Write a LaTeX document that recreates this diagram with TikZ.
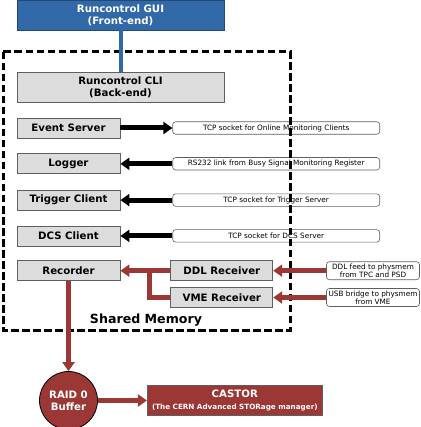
\documentclass[tikz,border=0pt]{standalone}
\usepackage{fontspec}
\setmainfont{DejaVu Sans}
\usetikzlibrary{arrows.meta,positioning}
\definecolor{guiblue}{RGB}{49,104,168}
\definecolor{darkred}{RGB}{155,56,54}
\definecolor{boxgray}{RGB}{220,220,220}
\definecolor{edgegray}{RGB}{95,95,95}

\begin{document}
\begin{tikzpicture}[x=1pt,y=-1pt,>={Triangle[length=9pt,width=12pt]},
    main node/.style={rectangle,draw=edgegray,fill=boxgray,line width=0.8pt,
      minimum width=103pt,minimum height=20pt,inner sep=0pt,
      font=\bfseries\fontsize{10.2}{12.3}\selectfont},
    wide node/.style={main node,minimum width=207pt,minimum height=30pt,align=center},
    info node/.style={rectangle,rounded corners=3pt,draw=edgegray,fill=white,
      line width=0.6pt,minimum width=207pt,minimum height=12.5pt,inner sep=0pt,
      font=\fontsize{7.3}{8.3}\selectfont,align=center},
    feed node/.style={info node,minimum width=93pt,minimum height=18pt},
    black arrow/.style={->,line width=5pt},
    red arrow/.style={->,line width=5pt,draw=darkred,color=darkred}]
    \useasboundingbox (0,0) rectangle (420,427);
    \node[wide node,fill=guiblue,draw=guiblue!70!black,text=white] (gui) at (120.5,15) {Runcontrol GUI\\(Front-end)};
    \node[wide node] (cli) at (120.5,87) {Runcontrol CLI\\(Back-end)};
    \node[main node] (evs) at (68.5,128) {Event Server};
    \node[main node] (log) [below=15pt of evs] {Logger};
    \node[main node] (trg) [below=15.5pt of log] {Trigger Client};
    \node[main node] (dcs) [below=15pt of trg] {DCS Client};
    \node[main node] (rec) [below=14pt of dcs] {Recorder};
    \node[main node,minimum width=102pt] (ddl) [right=50pt of rec] {DDL Receiver};
    \node[main node,minimum width=102pt] (vme) [below=6pt of ddl] {VME Receiver};
    \node[info node] (evsl) [right=52pt of evs] {TCP socket for Online Monitoring Clients};
    \node[info node] (logl) [right=52pt of log] {RS232 link from Busy Signal Monitoring Register};
    \node[info node] (trgl) [right=52pt of trg] {TCP socket for Trigger Server};
    \node[info node] (dcsl) [right=52pt of dcs] {TCP socket for DCS Server};
    \node[feed node] (ddll) [right=53pt of ddl] {DDL feed to physmem\\from TPC and PSD};
    \node[feed node] (vmel) [right=53pt of vme] {USB bridge to physmem\\from VME};
    \node[circle,draw=black,fill=darkred,line width=0.8pt,minimum size=58pt,inner sep=0pt,
      text=white,align=center,font=\bfseries\fontsize{10.2}{12.3}\selectfont] (buf) [below=90pt of rec] {RAID 0\\Buffer};
    \node[rectangle,draw=edgegray,fill=darkred,line width=0.8pt,minimum width=175pt,
      minimum height=30pt,text=white,align=center,font=\bfseries\fontsize{10.2}{12}\selectfont]
      (cas) [right=49pt of buf] {CASTOR\\{\fontsize{7.2}{8}\selectfont(The CERN Advanced STORage manager)}};
    \node[font=\bfseries\fontsize{12.6}{14}\selectfont] (shm) at (146,320) {Shared Memory};
    % shared memory border
    \draw[line width=3pt,dash pattern=on 7.5pt off 3.5pt] (3,52) rectangle (290,330);
    \draw[line width=4pt,guiblue] (gui) -- (cli);
    % sockets
    \draw[black arrow] (evs) -- (evsl);
    \draw[black arrow] (logl) -- (log);
    \draw[black arrow] (trgl) -- (trg);
    \draw[black arrow] (dcsl) -- (dcs);
    % data flow
    \coordinate[left=21pt of ddl.west] (join);
    \draw[red arrow] (ddll) -- (ddl);
    \draw[red arrow] (vmel) -- (vme);
    \draw[red arrow] (ddl) -- (rec);
    \draw[line width=5pt,darkred] (vme.west) -| (join);
    \draw[red arrow] (rec) -- (buf);
    \draw[red arrow] (buf) -- (cas);
\end{tikzpicture}
\end{document}
